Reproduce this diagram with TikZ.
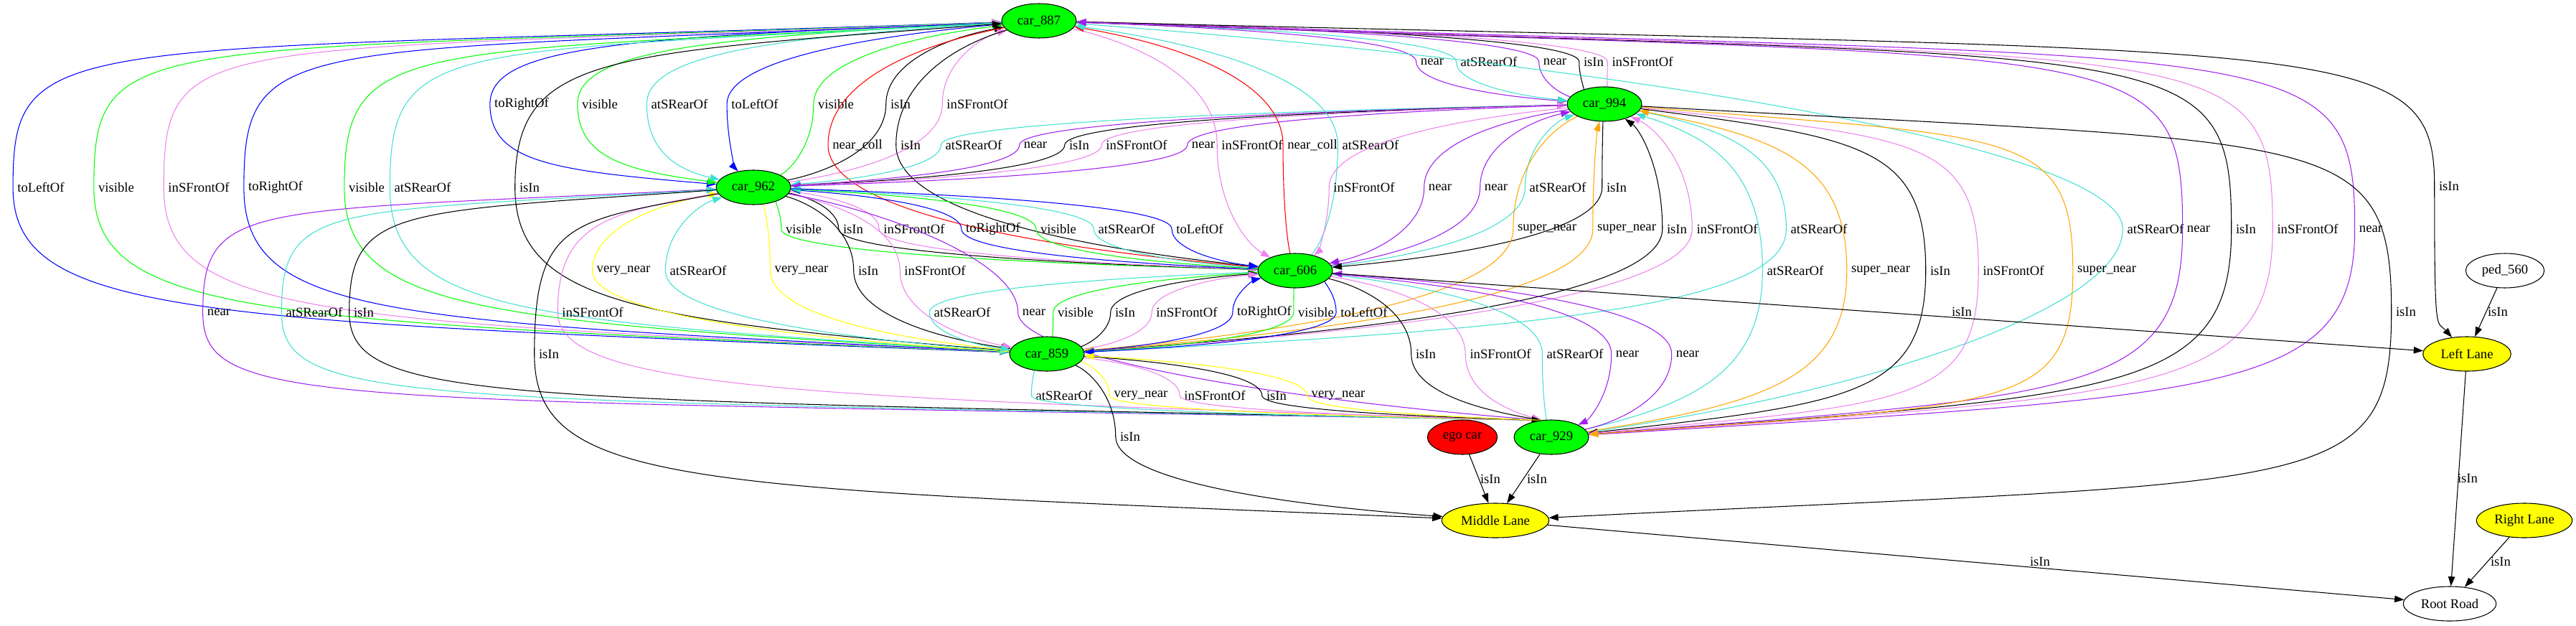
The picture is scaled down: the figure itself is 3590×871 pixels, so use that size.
\documentclass[tikz,border=0pt]{standalone}
\usepackage{fontspec}
\setmainfont{Liberation Serif}
\usetikzlibrary{shapes.geometric, arrows.meta, calc}

\definecolor{GraphGreen}{HTML}{00FF00}
\definecolor{GraphRed}{HTML}{FF0000}
\definecolor{GraphYellow}{HTML}{FFFF00}
\definecolor{GraphBlue}{HTML}{0000FF}
\definecolor{GraphTurquoise}{HTML}{40E0D0}
\definecolor{GraphViolet}{HTML}{EE82EE}
\definecolor{GraphPurple}{HTML}{A020F0}
\definecolor{GraphOrange}{HTML}{FFA500}

\newcommand{\graphfont}{\fontsize{14pt}{16pt}\selectfont}

\tikzstyle{graph-node}=[ellipse, draw, line width=0.8pt, minimum height=36pt, inner sep=0pt, font=\graphfont]
\tikzstyle{car-node}=[graph-node, fill=GraphGreen, minimum width=78pt]
\tikzstyle{lane-node}=[graph-node, fill=GraphYellow]
\tikzstyle{rel-label}=[inner sep=0pt, font=\graphfont]
\tikzstyle{rel}=[line width=0.8pt, -{Triangle[length=10pt,width=7pt]}]
\tikzstyle{rel-isIn}=[rel, black]
\tikzstyle{rel-near}=[rel, GraphPurple]
\tikzstyle{rel-visible}=[rel, GraphGreen]
\tikzstyle{rel-toLeftOf}=[rel, GraphBlue]
\tikzstyle{rel-toRightOf}=[rel, GraphBlue]
\tikzstyle{rel-atSRearOf}=[rel, GraphTurquoise]
\tikzstyle{rel-inSFrontOf}=[rel, GraphViolet]
\tikzstyle{rel-nearColl}=[rel, GraphRed]
\tikzstyle{rel-veryNear}=[rel, GraphYellow]
\tikzstyle{rel-superNear}=[rel, GraphOrange]

\pgfdeclarelayer{edges}
\pgfsetlayers{edges,main}

% edge from #4 to #5, routed past the left side of its label at (#6,#7)
\newcounter{relno}
\NewDocumentCommand{\graphedge}{O{0.5} O{#1} m m m m m m}{%
  \stepcounter{relno}%
  \node[rel-label] (rel-lbl-\therelno) at (#6,#7) {#8};
  \coordinate (m) at ([xshift=-4.5pt]rel-lbl-\therelno.west);
  \draw[#3] (#4) .. controls ($(#4)!#1!(m|-#4)!0.2!(m)$) and ($(m)!#1!(m|-#4)$) .. (m)
                 .. controls ($(m)!#2!(m|-#5)$) and ($(#5)!#2!(m|-#5)!0.2!(m)$) .. (#5);
}

\begin{document}
\begin{tikzpicture}[x=0.75pt, y=-0.75pt]
  \useasboundingbox (0,0) rectangle (3590,871);

  % nodes
  \node[car-node] (car_887) at (1448,29) {car\_887};
  \node[car-node] (car_994) at (2236,145) {car\_994};
  \node[car-node] (car_962) at (1050,261) {car\_962};
  \node[car-node] (car_606) at (1805,377) {car\_606};
  \node[car-node] (car_859) at (1459,493) {car\_859};
  \node[car-node] (car_929) at (2162,609) {car\_929};
  \node[graph-node, fill=GraphRed, minimum width=73pt] (ego_car) at (2038,609) {ego car};
  \node[lane-node, minimum width=112pt] (middle_lane) at (2084,725) {Middle Lane};
  \node[lane-node, minimum width=92pt] (left_lane) at (3438,493) {Left Lane};
  \node[graph-node, minimum width=82pt] (ped_560) at (3491,377) {ped\_560};
  \node[lane-node, minimum width=100pt] (right_lane) at (3518,725) {Right Lane};
  \node[graph-node, minimum width=97pt] (root_road) at (3414,841) {Root Road};

  \begin{pgfonlayer}{edges}
  % car_887 - car_994
  \graphedge{rel-near}{car_887}{car_994}{1996}{86}{near}
  \graphedge{rel-atSRearOf}{car_887}{car_994}{2075}{86}{atSRearOf}
  \graphedge{rel-near}{car_994}{car_887}{2167}{86}{near}
  \graphedge{rel-isIn}{car_994}{car_887}{2221}{86}{isIn}
  \graphedge{rel-inSFrontOf}{car_994}{car_887}{2289}{86}{inSFrontOf}

  % car_887 - car_962
  \graphedge[0.7]{rel-toRightOf}{car_887}{car_962}{727}{145}{toRightOf}
  \graphedge[0.65]{rel-visible}{car_887}{car_962}{836}{145}{visible}
  \graphedge[0.6]{rel-atSRearOf}{car_887}{car_962}{947}{145}{atSRearOf}
  \graphedge{rel-toLeftOf}{car_887}{car_962}{1052}{145}{toLeftOf}
  \graphedge{rel-visible}{car_962}{car_887}{1165}{145}{visible}
  \graphedge{rel-isIn}{car_962}{car_887}{1255}{145}{isIn}
  \graphedge{rel-inSFrontOf}{car_962}{car_887}{1362}{145}{inSFrontOf}

  % car_887 - car_606, car_994 - car_962
  \graphedge{rel-nearColl}{car_887}{car_606}{1195}{202}{near\_coll}
  \graphedge{rel-isIn}{car_887}{car_606}{1269}{202}{isIn}
  \graphedge{rel-atSRearOf}{car_994}{car_962}{1357}{202}{atSRearOf}
  \graphedge{rel-near}{car_962}{car_994}{1443}{202}{near}
  \graphedge{rel-isIn}{car_962}{car_994}{1504}{202}{isIn}
  \graphedge{rel-inSFrontOf}{car_962}{car_994}{1584}{202}{inSFrontOf}
  \graphedge{rel-near}{car_994}{car_962}{1677}{202}{near}
  \graphedge{rel-inSFrontOf}{car_887}{car_606}{1745}{202}{inSFrontOf}
  \graphedge{rel-nearColl}{car_606}{car_887}{1829}{202}{near\_coll}
  \graphedge{rel-atSRearOf}{car_606}{car_887}{1910}{202}{atSRearOf}

  % car_887 - car_859, car_994 - car_606
  \graphedge[0.78][0.95]{rel-toLeftOf}{car_859}{car_887}{57}{261}{toLeftOf}
  \graphedge[0.78][0.95]{rel-visible}{car_859}{car_887}{162}{261}{visible}
  \graphedge[0.78][0.95]{rel-inSFrontOf}{car_859}{car_887}{277}{261}{inSFrontOf}
  \graphedge[0.93][0.78]{rel-toRightOf}{car_887}{car_859}{384}{261}{toRightOf}
  \graphedge[0.9][0.75]{rel-visible}{car_887}{car_859}{511}{261}{visible}
  \graphedge[0.9][0.75]{rel-atSRearOf}{car_887}{car_859}{589}{261}{atSRearOf}
  \graphedge[0.7][0.8]{rel-isIn}{car_859}{car_887}{738}{261}{isIn}
  \graphedge{rel-inSFrontOf}{car_994}{car_606}{1901}{261}{inSFrontOf}
  \graphedge{rel-near}{car_994}{car_606}{2007}{261}{near}
  \graphedge{rel-near}{car_606}{car_994}{2085}{261}{near}
  \graphedge{rel-atSRearOf}{car_606}{car_994}{2171}{261}{atSRearOf}
  \graphedge{rel-isIn}{car_994}{car_606}{2253}{261}{isIn}
  \graphedge[0.92]{rel-isIn}{car_887}{left_lane}{3413}{259}{isIn}

  % car_962 - car_606, car_994 - car_859, car_887 - car_929
  \graphedge{rel-visible}{car_962}{car_606}{1120}{319}{visible}
  \graphedge{rel-isIn}{car_962}{car_606}{1189}{319}{isIn}
  \graphedge{rel-inSFrontOf}{car_962}{car_606}{1274}{319}{inSFrontOf}
  \graphedge{rel-toRightOf}{car_606}{car_962}{1384}{319}{toRightOf}
  \graphedge{rel-visible}{car_606}{car_962}{1475}{319}{visible}
  \graphedge{rel-atSRearOf}{car_606}{car_962}{1570}{319}{atSRearOf}
  \graphedge{rel-toLeftOf}{car_962}{car_606}{1672}{319}{toLeftOf}
  \graphedge{rel-superNear}{car_994}{car_859}{2156}{319}{super\_near}
  \graphedge{rel-superNear}{car_859}{car_994}{2267}{319}{super\_near}
  \graphedge{rel-isIn}{car_859}{car_994}{2337}{319}{isIn}
  \graphedge{rel-inSFrontOf}{car_859}{car_994}{2407}{319}{inSFrontOf}
  \graphedge[0.6]{rel-atSRearOf}{car_994}{car_859}{2535}{319}{atSRearOf}
  \graphedge[0.4]{rel-atSRearOf}{car_929}{car_887}{3004}{319}{atSRearOf}
  \graphedge[0.95][0.8]{rel-near}{car_887}{car_929}{3064}{319}{near}
  \graphedge[0.8][0.95]{rel-isIn}{car_929}{car_887}{3130}{319}{isIn}
  \graphedge[0.8][0.95]{rel-inSFrontOf}{car_929}{car_887}{3216}{319}{inSFrontOf}
  \graphedge[0.8][0.95]{rel-near}{car_929}{car_887}{3304}{319}{near}

  % car_962 - car_859, car_994 - car_929
  \graphedge{rel-veryNear}{car_859}{car_962}{869}{377}{very\_near}
  \graphedge{rel-atSRearOf}{car_859}{car_962}{973}{377}{atSRearOf}
  \graphedge{rel-veryNear}{car_962}{car_859}{1117}{377}{very\_near}
  \graphedge{rel-isIn}{car_962}{car_859}{1210}{377}{isIn}
  \graphedge{rel-inSFrontOf}{car_962}{car_859}{1303}{377}{inSFrontOf}
  \graphedge[0.6]{rel-atSRearOf}{car_929}{car_994}{2502}{377}{atSRearOf}
  \graphedge[0.65]{rel-superNear}{car_929}{car_994}{2621}{377}{super\_near}
  \graphedge[0.75]{rel-isIn}{car_994}{car_929}{2704}{377}{isIn}
  \graphedge[0.8]{rel-inSFrontOf}{car_994}{car_929}{2806}{377}{inSFrontOf}
  \graphedge[0.85]{rel-superNear}{car_994}{car_929}{2936}{377}{super\_near}

  % car_962 - car_929, car_606 - car_859
  \graphedge[0.9]{rel-near}{car_929.120}{car_962}{305}{435}{near}
  \graphedge[0.88]{rel-atSRearOf}{car_929.120}{car_962}{438}{435}{atSRearOf}
  \graphedge[0.85]{rel-isIn}{car_962}{car_929.120}{507}{435}{isIn}
  \graphedge[0.7]{rel-inSFrontOf}{car_962}{car_929.120}{826}{435}{inSFrontOf}
  \graphedge[0.4]{rel-near}{car_962}{car_929.120}{1441}{435}{near}
  \graphedge{rel-atSRearOf}{car_606}{car_859}{1341}{435}{atSRearOf}
  \graphedge{rel-visible}{car_859}{car_606}{1499}{435}{visible}
  \graphedge{rel-isIn}{car_859}{car_606}{1568}{435}{isIn}
  \graphedge{rel-inSFrontOf}{car_859}{car_606}{1654}{435}{inSFrontOf}
  \graphedge{rel-toRightOf}{car_859}{car_606}{1762}{435}{toRightOf}
  \graphedge{rel-visible}{car_606}{car_859}{1834}{435}{visible}
  \graphedge{rel-toLeftOf}{car_606}{car_859}{1901}{435}{toLeftOf}
  \graphedge[0.9]{rel-isIn}{car_994}{middle_lane}{3353}{434}{isIn}

  % car_606 - car_929, car_859 - car_929
  \graphedge[0.8]{rel-isIn}{car_962}{middle_lane}{765}{493}{isIn}
  \graphedge{rel-isIn}{car_606}{car_929.120}{1987}{493}{isIn}
  \graphedge{rel-inSFrontOf}{car_606}{car_929.120}{2091}{493}{inSFrontOf}
  \graphedge{rel-atSRearOf}{car_606}{car_929}{2195}{493}{atSRearOf}
  \graphedge{rel-near}{car_606}{car_929}{2268}{493}{near}
  \graphedge{rel-near}{car_929}{car_606}{2352}{493}{near}
  \graphedge{rel-atSRearOf}{car_929.120}{car_859}{1483}{551}{atSRearOf}
  \graphedge{rel-veryNear}{car_859}{car_929.120}{1590}{551}{very\_near}
  \graphedge{rel-inSFrontOf}{car_859}{car_929.120}{1693}{551}{inSFrontOf}
  \graphedge{rel-isIn}{car_859}{car_929.120}{1779}{551}{isIn}
  \graphedge{rel-veryNear}{car_929.120}{car_859}{1865}{551}{very\_near}
  \graphedge{rel-isIn}{car_859}{middle_lane}{1575}{608}{isIn}

  % lanes and road
  \draw[rel-isIn] (car_606) -- (left_lane);
  \node[rel-label] (lbl-606-left) at (2734,434) {isIn};
  \draw[rel-isIn] (ped_560) -- (left_lane);
  \node[rel-label] (lbl-ped-left) at (3481,434) {isIn};
  \draw[rel-isIn] (ego_car) -- (middle_lane);
  \node[rel-label] (lbl-ego-middle) at (2077,667) {isIn};
  \draw[rel-isIn] (car_929) -- (middle_lane);
  \node[rel-label] (lbl-929-middle) at (2142,667) {isIn};
  \draw[rel-isIn] (left_lane) -- (root_road);
  \node[rel-label] (lbl-left-root) at (3439,666) {isIn};
  \draw[rel-isIn] (middle_lane) -- (root_road);
  \node[rel-label] (lbl-middle-root) at (2843,782) {isIn};
  \draw[rel-isIn] (right_lane) -- (root_road);
  \node[rel-label] (lbl-right-root) at (3485,782) {isIn};
  \end{pgfonlayer}
\end{tikzpicture}
\end{document}
